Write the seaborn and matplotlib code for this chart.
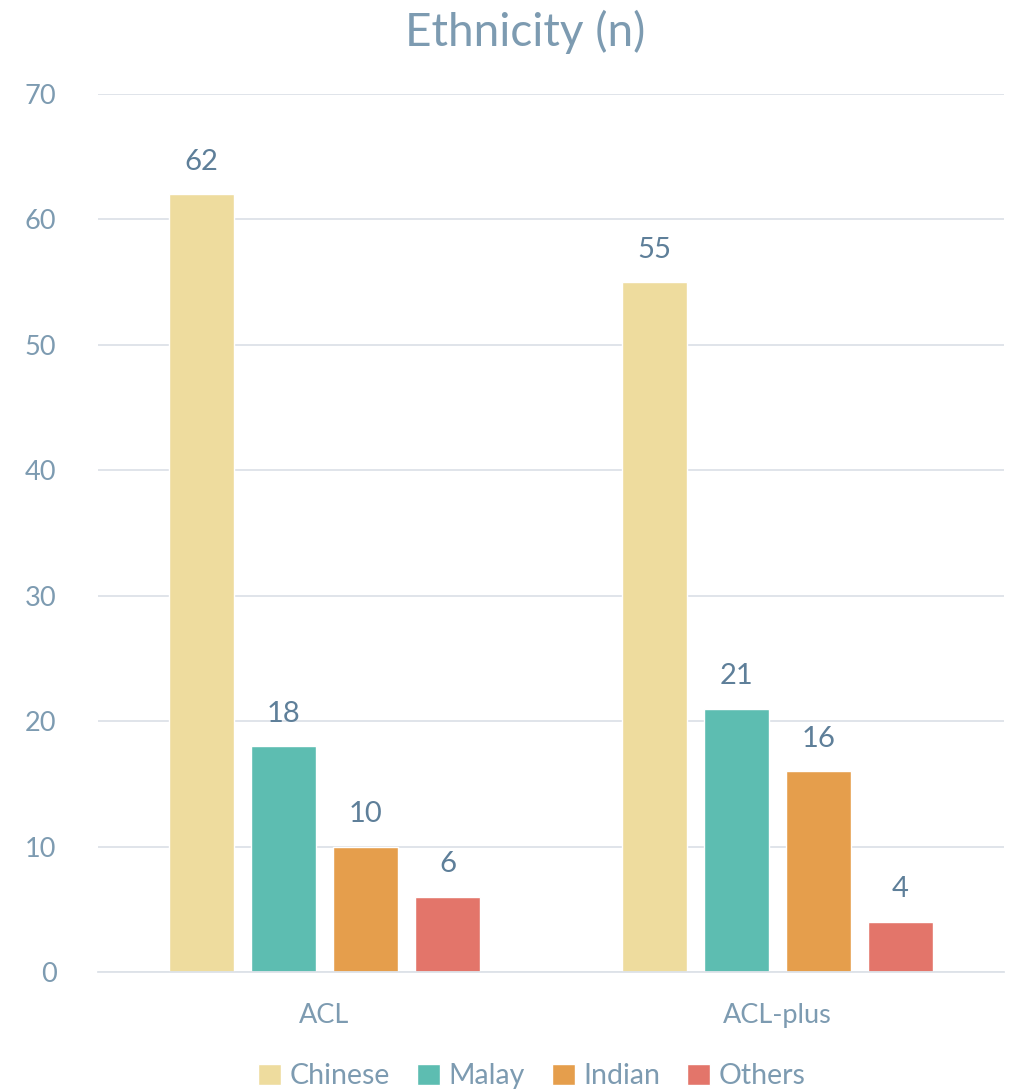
import pandas as pd
import seaborn as sns
import matplotlib.pyplot as plt

groups = ["ACL", "ACL-plus"]
ethnicities = ["Chinese", "Malay", "Indian", "Others"]
acl_counts = [62, 18, 10, 6]
acl_plus_counts = [55, 21, 16, 4]
colors = ["#EEDC9E", "#5DBDB1", "#E59E4C", "#E3756A"]

rows = []
for eth, a, b in zip(ethnicities, acl_counts, acl_plus_counts):
    rows.append(["ACL", eth, a])
    rows.append(["ACL-plus", eth, b])
df = pd.DataFrame(rows, columns=["group", "ethnicity", "n"])

sns.set_theme(style="white")
plt.rcParams["font.family"] = ["Lato", "DejaVu Sans"]

text_col = "#7D9BB1"
label_col = "#5E7F99"

fig = plt.figure(figsize=(10.15, 10.91), dpi=100)
ax = fig.add_axes([0.0966, 0.109, 0.8924, 0.805])

sns.barplot(data=df, x="group", y="n", hue="ethnicity", order=groups,
            hue_order=ethnicities, palette=colors, width=0.724, gap=0.2,
            ax=ax, legend=True, saturation=1)

for cont in ax.containers:
    ax.bar_label(cont, padding=14, fontsize=21, color=label_col)

ax.set_ylim(0, 70)
ax.set_xlim(-0.5, 1.5)
ax.set_yticks(range(0, 71, 10))
ax.yaxis.grid(True, color="#DDE2E8", linewidth=1.3)
ax.set_axisbelow(True)
for s in ["top", "right", "left"]:
    ax.spines[s].set_visible(False)
ax.spines["bottom"].set_color("#DDE2E8")
ax.spines["bottom"].set_linewidth(1.3)
ax.tick_params(axis="both", length=0, labelsize=19.5, labelcolor=text_col)
ax.tick_params(axis="y", pad=30)
ax.tick_params(axis="x", pad=22)
ax.set_xlabel("")
ax.set_ylabel("")

fig.suptitle("Ethnicity (n)", x=0.517, y=0.991, fontsize=33, color=text_col)

handles, labels = ax.get_legend_handles_labels()
ax.legend_.remove()
fig.legend(handles, labels, loc="lower center", bbox_to_anchor=(0.524, -0.022),
           ncol=4, frameon=False, fontsize=20.5, labelcolor=text_col,
           handlelength=0.8, handleheight=0.8, handletextpad=0.3,
           columnspacing=0.95)

fig.savefig("out.png", dpi=100)
